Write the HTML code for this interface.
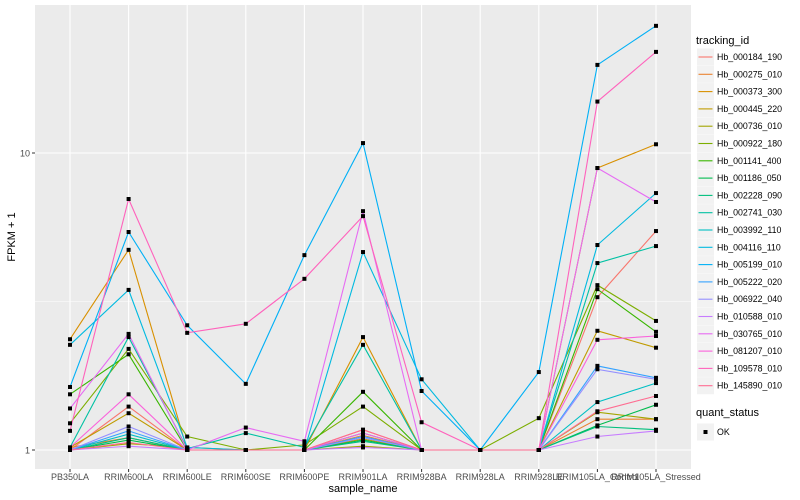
<!DOCTYPE html>
<html><head><meta charset="utf-8"><style>
body{margin:0;background:#fff;}
svg{display:block;font-family:"Liberation Sans",sans-serif;}
</style></head><body>
<svg id="chart" width="800" height="500"></svg>
<script>
const categories=["PB350LA","RRIM600LA","RRIM600LE","RRIM600SE","RRIM600PE","RRIM901LA","RRIM928BA","RRIM928LA","RRIM928LE","RRIM105LA_Control","RRIM105LA_Stressed"];
const seriesNames=["Hb_000184_190","Hb_000275_010","Hb_000373_300","Hb_000445_220","Hb_000736_010","Hb_000922_180","Hb_001141_400","Hb_001186_050","Hb_002228_090","Hb_002741_030","Hb_003992_110","Hb_004116_110","Hb_005199_010","Hb_005222_020","Hb_006922_040","Hb_010588_010","Hb_030765_010","Hb_081207_010","Hb_109578_010","Hb_145890_010"];
const seriesColors=["#F8766D","#EA8331","#D89000","#C09B00","#A3A500","#7CAE00","#39B600","#00BB4E","#00BF7D","#00C1A3","#00BFC4","#00BAE0","#00B0F6","#35A2FF","#9590FF","#C77CFF","#E76BF3","#FA62DB","#FF62BC","#FF6C91"];
const s01=[1,1.40,1,1,1,1.17,1,1,1,3.27,5.46];
const s02=[1.02,1.10,1,1,1,1.12,1,1,1,1.27,1.27];
const s03=[2.36,4.72,1,1,1,2.40,1,1,1,8.9,10.7];
const s04=[1.02,1.33,1,1,1,1.09,1,1,1,2.52,2.21];
const s05=[1,1.05,1.02,1,1,1.03,1,1,1,1.34,1.27];
const s06=[1.23,2.19,1.11,1,1.04,1.40,1,1,1.28,3.59,2.72];
const s07=[1.54,2.10,1,1,1,1.57,1,1,1,3.48,2.50];
const s08=[1,1.08,1,1,1,1.08,1,1,1,1.21,1.42];
const s09=[1,1.10,1,1,1,1.07,1,1,1,1.20,1.17];
const s10=[1.02,2.40,1.01,1.14,1.02,2.26,1,1,1,4.26,4.86];
const s11=[1,1.13,1,1,1,1.14,1,1,1,1.45,1.68];
const s12=[2.26,3.46,1.02,1,1,4.64,1.73,1,1,4.90,7.33];
const s13=[1.63,5.42,2.63,1.67,4.53,10.8,1.58,1,1.83,19.8,26.8];
const s14=[1,1.16,1,1,1,1.11,1,1,1,1.92,1.75];
const s15=[1,1.20,1,1,1,1.10,1,1,1,1.87,1.73];
const s16=[1,1.03,1,1,1,1.02,1,1,1,1.11,1.16];
const s17=[1.38,2.46,1,1.19,1.07,6.37,1,1,1,8.9,6.84];
const s18=[1.02,1.54,1,1,1,1.14,1,1,1,2.35,2.42];
const s19=[1.16,7.0,2.48,2.66,3.77,6.13,1.24,1,1,14.9,21.9];
const s20=[1,1.06,1,1,1,1.17,1,1,1,1.35,1.52];
const seriesValues=[s01,s02,s03,s04,s05,s06,s07,s08,s09,s10,s11,s12,s13,s14,s15,s16,s17,s18,s19,s20];
const yTicks=[1,10];
const yTickLabels=["1","10"];

const NS="http://www.w3.org/2000/svg";
const svg=document.getElementById('chart');
const P={l:35,r:691,t:5,b:469};
function xScale(i){return 70+i*58.6;}
function yScale(v){return 450-297*Math.log10(v);}
function mk(tag,attrs,parent){const e=document.createElementNS(NS,tag);for(const k in attrs)e.setAttribute(k,attrs[k]);(parent||svg).appendChild(e);return e;}

const panel=mk('rect',{x:P.l,y:P.t,width:P.r-P.l,height:P.b-P.t,fill:'#EBEBEB'});


// minor grid
[Math.sqrt(10)].forEach(v=>{const g=mk('line',{x1:P.l,x2:P.r,y1:yScale(v),y2:yScale(v),stroke:'#fff','stroke-width':0.55});

});
yTicks.forEach((v,i)=>{
 const g=mk('line',{x1:P.l,x2:P.r,y1:yScale(v),y2:yScale(v),stroke:'#fff','stroke-width':1.1});
 
 
 const t=mk('line',{x1:P.l-3,x2:P.l,y1:yScale(v),y2:yScale(v),stroke:'#333','stroke-width':1});
 
 
 const l=mk('text',{x:P.l-5,y:yScale(v)+3.5,'text-anchor':'end','font-size':9,fill:'#4D4D4D'});
 l.textContent=yTickLabels[i];
 
 
});
categories.forEach((c,i)=>{
 const g=mk('line',{x1:xScale(i),x2:xScale(i),y1:P.t,y2:P.b,stroke:'#fff','stroke-width':1.1});
 
 
 const t=mk('line',{x1:xScale(i),x2:xScale(i),y1:P.b,y2:P.b+3,stroke:'#333','stroke-width':1});
 
 
 const l=mk('text',{x:xScale(i),y:P.b+11,'text-anchor':'middle','font-size':9,fill:'#4D4D4D'});
 l.textContent=c;
 
 
});
seriesValues.forEach((vals,si)=>{
 const pts=vals.map((v,i)=>xScale(i).toFixed(1)+','+yScale(v).toFixed(1)).join(' ');
 const pl=mk('polyline',{points:pts,fill:'none',stroke:seriesColors[si],'stroke-width':1.1});
 
 
});
seriesValues.forEach((vals,si)=>{
 vals.forEach((v,i)=>{
  const r=mk('rect',{x:xScale(i)-2,y:yScale(v)-2,width:4,height:4,fill:'#000'});
  
  
 });
});
const yt=mk('text',{x:15,y:237,'text-anchor':'middle','font-size':11,fill:'#000',transform:'rotate(-90 15 237)'});
yt.textContent='FPKM + 1';


const xt=mk('text',{x:363,y:492,'text-anchor':'middle','font-size':11,fill:'#000'});
xt.textContent='sample_name';


// legend
const lt=mk('text',{x:696,y:44,'font-size':11,fill:'#000'});
lt.textContent='tracking_id';


seriesNames.forEach((n,i)=>{
 const y=57+i*17.3;
 const bx=mk('rect',{x:697,y:y-8.5,width:17,height:17,fill:'#F2F2F2'});
 
 
 const ln=mk('line',{x1:698.5,x2:712.5,y1:y,y2:y,stroke:seriesColors[i],'stroke-width':1.1});
 
 
 const tx=mk('text',{x:717,y:y+3,'font-size':8.8,fill:'#000'});
 tx.textContent=n;
 
 
});
const qt=mk('text',{x:696,y:416,'font-size':11,fill:'#000'});
qt.textContent='quant_status';


const qb=mk('rect',{x:697,y:423.5,width:17,height:17,fill:'#F2F2F2'});


const qp=mk('rect',{x:703.5,y:430,width:4,height:4,fill:'#000'});


const qx=mk('text',{x:717,y:435,'font-size':8.8,fill:'#000'});
qx.textContent='OK';


</script>
</body></html>
